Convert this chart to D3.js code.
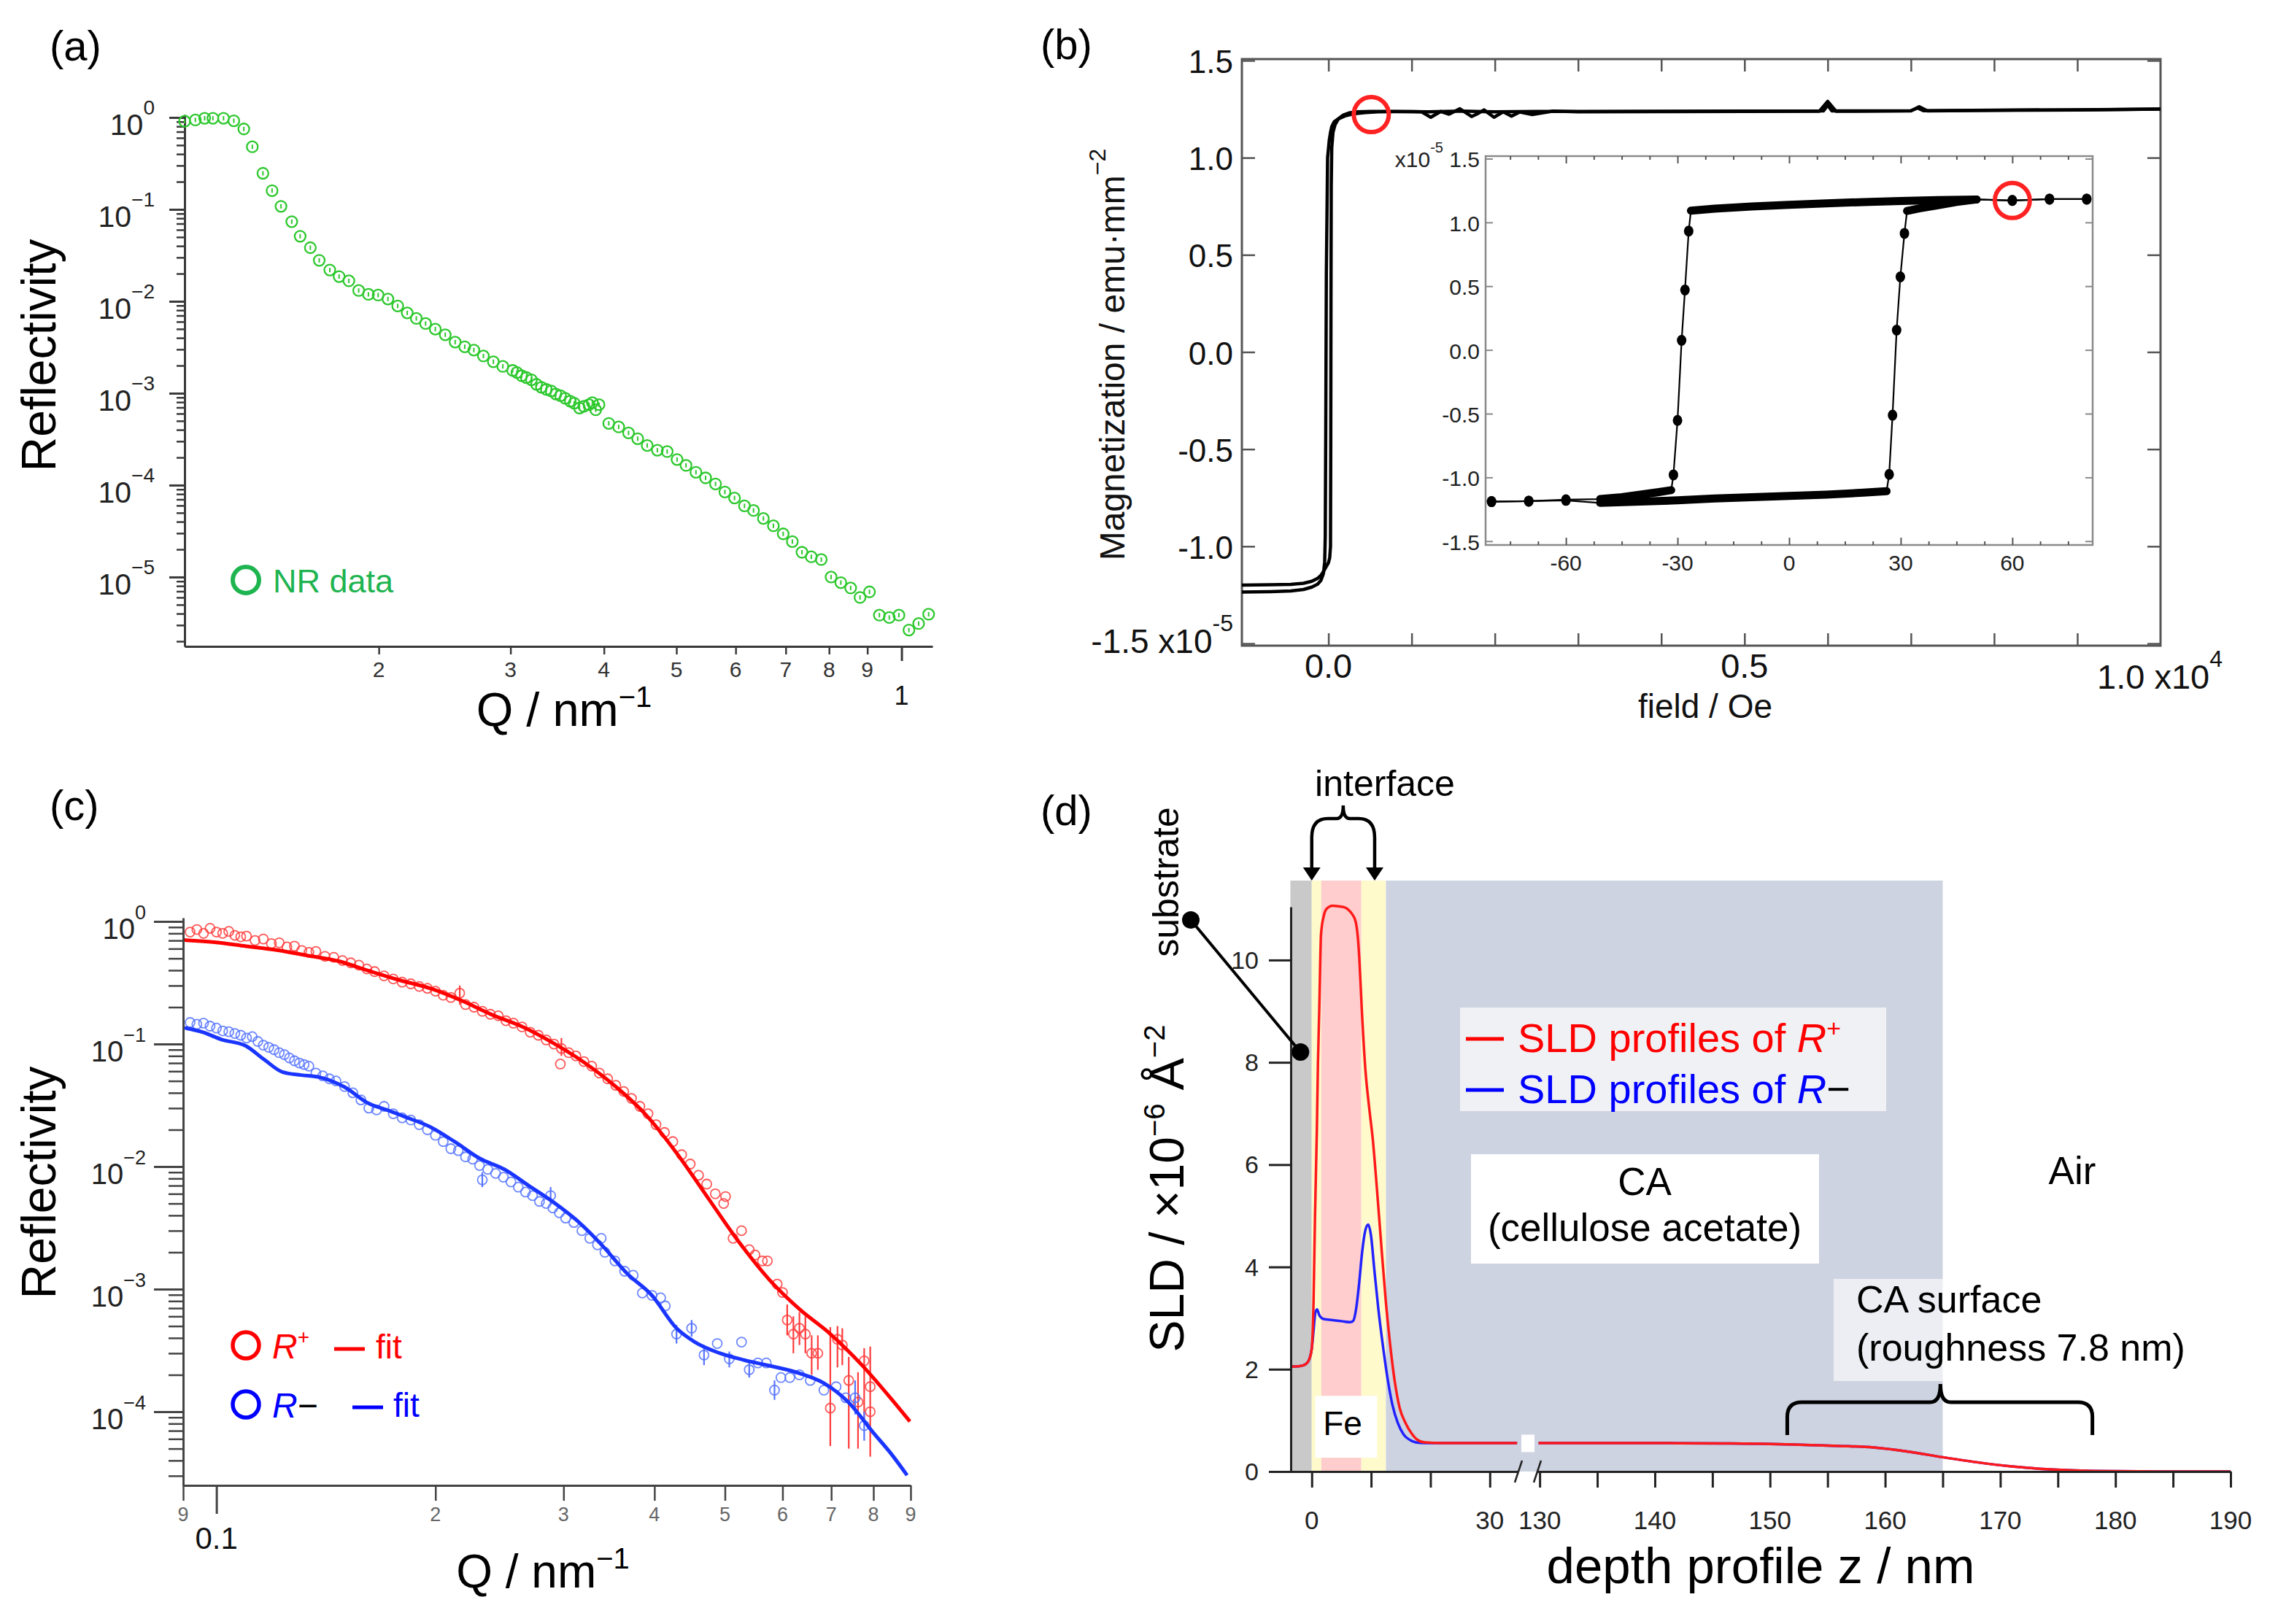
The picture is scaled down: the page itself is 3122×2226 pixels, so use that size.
<!DOCTYPE html>
<html>
<head>
<meta charset="utf-8">
<script src="https://cdn.jsdelivr.net/npm/d3@7/dist/d3.min.js"></script>
<style>
  html, body { margin:0; padding:0; background:#ffffff; }
  svg { display:block; }
</style>
</head>
<body>
<svg id="fig" width="3122" height="2226" xmlns="http://www.w3.org/2000/svg"></svg>
<script>
// ======================= DATA =======================
// ---- (a) NR data ----
const nrQ = [0.110,0.1137,0.117,0.120,0.124,0.128,0.132,0.1355,0.140,0.144,0.148,0.153,0.157,0.162,0.1665,0.172,0.177,0.1824,0.188,0.1937,0.1996,0.2057,0.212,0.2183,0.2245,0.231,0.238,0.2454,0.253,0.2606,0.268,0.276,0.2846,0.293,0.302,0.3105,0.320,0.330,0.340,0.350,0.3606,0.371,0.382,0.394,0.406,0.4186,0.4315,0.4438,0.457,0.4715,0.486,0.501,0.515,0.531,0.547,0.564,0.5805,0.598,0.6166,0.634,0.6535,0.674,0.6946,0.7145,0.736,0.7574,0.781,0.805,0.8295,0.855,0.880,0.906,0.934,0.963,0.992,1.023,1.054,1.087,
  0.306,0.315,0.325,0.335,0.345,0.355,0.365,0.376,0.386,0.390];
const nrR = [0.91,0.94,0.98,0.98,0.98,0.92,0.75,0.48,0.247,0.160,0.108,0.0735,0.051,0.0383,0.0279,0.0219,0.0186,0.0167,0.0131,0.0119,0.0117,0.0106,0.0089,0.00748,0.00651,0.00573,0.00498,0.00433,0.0036,0.0032,0.00295,0.00254,0.0022,0.00196,0.00177,0.00155,0.0014,0.00116,0.00106,0.00094,0.00082,0.00069,0.00075,0.00075,0.00047,0.00043,0.00037,0.00032,0.00027,0.00024,0.000232,0.00019,0.000164,0.000138,0.00012,0.000103,0.0000843,0.0000724,0.0000594,0.000053,0.0000434,0.0000361,0.0000295,0.0000243,0.0000186,0.0000166,0.0000155,0.00001,0.0000087,0.0000076,0.000006,0.0000069,0.00000385,0.00000363,0.00000385,0.00000265,0.00000312,0.00000394,
  0.00168,0.00148,0.00125,0.0011,0.00098,0.00088,0.00078,0.00072,0.00079,0.00066];
const aXTickLabels = ["2","3","4","5","6","7","8","9","1"];
const aYSup = ["0","\u22121","\u22122","\u22123","\u22124","\u22125"];

// ---- (b) magnetization loop (main) ----
const bigDownH = [10000,9000,8000,7200,7100,7000,6100,6000,5900,5000,4000,3000,2700,2450,2300,2200,2100,1990,1870,1800,1720,1580,1450,1350,1230,1120,1000,800,600,450,300,200,120,70,40,25,10,-10,-25,-32,-38,-45,-60,-90,-130,-200,-300,-450,-700,-1040];
const bigDownM = [1.25,1.246,1.244,1.241,1.262,1.241,1.239,1.29,1.239,1.238,1.237,1.236,1.24,1.222,1.235,1.214,1.236,1.208,1.246,1.228,1.212,1.252,1.224,1.238,1.208,1.236,1.237,1.237,1.236,1.232,1.226,1.215,1.2,1.185,1.16,1.13,1.09,1.0,0.4,-0.4,-0.95,-1.08,-1.14,-1.175,-1.195,-1.21,-1.222,-1.23,-1.233,-1.235];
const bigUpH = [-1040,-700,-450,-300,-200,-130,-90,-60,-40,-20,0,15,25,28,31,34,40,55,80,120,180,260,350,500,800,1200,1600,2000,2500,3000,4000,5000,5950,6000,6050,7000,7080,7150,8000,9000,10000];
const bigUpM = [-1.2,-1.198,-1.196,-1.19,-1.18,-1.165,-1.15,-1.13,-1.115,-1.1,-1.085,-1.06,-1.0,-0.5,0.3,0.85,1.05,1.13,1.17,1.2,1.22,1.232,1.236,1.238,1.238,1.236,1.24,1.236,1.238,1.238,1.239,1.24,1.241,1.27,1.241,1.242,1.256,1.242,1.245,1.247,1.25];
const bXTicks = [0,1000,2000,3000,4000,5000,6000,7000,8000,9000];
const bXLabelVals = [0,5000,10000];
const bXLabels = ["0.0","0.5","1.0 x10"];
const bYTicks = [-1.5,-1,-0.5,0,0.5,1,1.5];
const bYLabels = ["-1.5 x10","-1.0","-0.5","0.0","0.5","1.0","1.5"];
const bMarkH = 515, bMarkM = 1.222;

// ---- (b) inset loop ----
const loopDownH = [80,70,60,50.4,40,30,20,10,0,-10,-20,-26.4,-27,-28,-28.9,-30,-31.1,-31.7,-35,-40,-45,-50.8,-60,-70,-80];
const loopDownM = [1.183,1.183,1.172,1.18,1.175,1.168,1.16,1.15,1.138,1.125,1.108,1.092,0.932,0.47,0.075,-0.553,-0.98,-1.10,-1.115,-1.135,-1.155,-1.17,-1.175,-1.186,-1.19];
const loopUpH = [-80,-70,-60,-50.8,-40,-30,-20,-10,0,10,20,26.2,26.9,27.8,28.9,29.9,31,31.7,35,40,45,50.4,60,70,80];
const loopUpM = [-1.19,-1.186,-1.18,-1.2,-1.19,-1.18,-1.165,-1.155,-1.145,-1.135,-1.12,-1.108,-0.976,-0.512,0.155,0.573,0.914,1.09,1.11,1.135,1.16,1.18,1.172,1.183,1.183];
const iXMajor = [-60,-30,0,30,60];
const iXLabels = ["-60","-30","0","30","60"];
const iXMinor = [-75,-67.5,-52.5,-45,-37.5,-22.5,-15,-7.5,7.5,15,22.5,37.5,45,52.5,67.5,75];
const iYTicks = [-1.5,-1,-0.5,0,0.5,1,1.5];
const iYLabels = ["-1.5","-1.0","-0.5","0.0","0.5","1.0","1.5"];
const iMarkH = 60, iMarkM = 1.172;

// ---- (c) R+ / R- ----
const rpQ = [0.092,0.094,0.096,0.098,0.100,0.102,0.104,0.106,0.108,0.110,0.113,0.116,0.119,0.122,0.125,0.128,0.131,0.134,0.137,0.141,0.145,0.149,0.153,0.157,0.161,0.165,0.170,0.175,0.180,0.185,0.190,0.195,0.200,0.205,0.210,0.216,0.220,0.226,0.232,0.238,0.244,0.250,0.256,0.263,0.270,0.277,0.284,0.291,0.298,0.297,0.305,0.312,0.320,0.328,0.336,0.345,0.354,0.363,0.372,0.382,0.392,0.402,0.413,0.424,0.436,0.448,0.460,0.472,0.485,0.498,0.501,0.513,0.527,0.540,0.550,0.563,0.572,0.590,0.600,0.609,0.621,0.633,0.645,0.658,0.671,0.698,0.714,0.725,0.740,0.762,0.777,0.792,0.792];
const rpR = [0.82,0.86,0.80,0.88,0.82,0.80,0.83,0.77,0.75,0.76,0.70,0.72,0.66,0.67,0.62,0.63,0.58,0.56,0.57,0.52,0.51,0.48,0.46,0.44,0.41,0.39,0.36,0.34,0.32,0.31,0.295,0.285,0.27,0.25,0.24,0.26,0.21,0.20,0.185,0.175,0.17,0.155,0.148,0.138,0.125,0.118,0.108,0.100,0.092,0.0687,0.085,0.080,0.072,0.066,0.058,0.052,0.046,0.041,0.036,0.031,0.027,0.022,0.019,0.016,0.0125,0.0105,0.0085,0.0072,0.0060,0.0050,0.0057,0.0026,0.0030,0.0021,0.0019,0.0017,0.0017,0.0011,0.00094,0.00056,0.00043,0.00048,0.00043,0.0003,0.0003,0.000107,0.00039,0.00035,0.00018,0.00012,0.00026,0.00016,0.0001];
const rpErrQ = [0.216,0.298,0.609,0.621,0.633,0.645,0.658,0.671,0.698,0.714,0.725,0.740,0.762,0.777,0.792];
const rpErrLo = [0.21,0.080,0.00042,0.0003,0.00035,0.0003,0.0002,0.00022,0.0000525,0.00023,0.00024,0.00005,0.00005,0.000083,0.000043];
const rpErrHi = [0.30,0.112,0.00075,0.0006,0.00065,0.0006,0.00042,0.00042,0.00049,0.0005,0.00048,0.00028,0.00021,0.00033,0.00034];
const rpFitQ = [0.0904,0.1,0.1098,0.121,0.1334,0.147,0.162,0.1786,0.197,0.217,0.2392,0.2636,0.2906,0.3202,0.353,0.389,0.4289,0.4727,0.521,0.5743,0.633,0.6977,0.769,0.8477,0.898];
const rpFitR = [0.705,0.676,0.629,0.585,0.528,0.476,0.396,0.332,0.284,0.227,0.1735,0.138,0.1016,0.0708,0.0455,0.0266,0.01294,0.00568,0.00249,0.00121,0.000687,0.000432,0.000245,0.000126,0.0000832];

const rmQ = [0.092,0.094,0.096,0.098,0.100,0.102,0.104,0.106,0.108,0.110,0.112,0.114,0.116,0.118,0.120,0.122,0.124,0.126,0.128,0.130,0.132,0.134,0.137,0.140,0.143,0.146,0.150,0.154,0.158,0.162,0.166,0.170,0.175,0.180,0.185,0.190,0.195,0.200,0.205,0.210,0.215,0.220,0.225,0.230,0.232,0.236,0.242,0.248,0.254,0.260,0.266,0.272,0.278,0.284,0.288,0.290,0.296,0.302,0.310,0.318,0.326,0.334,0.338,0.342,0.353,0.364,0.374,0.385,0.397,0.408,0.414,0.429,0.450,0.468,0.488,0.507,0.527,0.540,0.555,0.570,0.585,0.597,0.614,0.633,0.655,0.684,0.711,0.733,0.755,0.777];
const rmR = [0.150,0.145,0.148,0.140,0.135,0.128,0.126,0.122,0.118,0.112,0.115,0.105,0.098,0.094,0.090,0.085,0.082,0.077,0.073,0.070,0.068,0.066,0.058,0.055,0.052,0.050,0.045,0.040,0.035,0.030,0.029,0.031,0.027,0.025,0.024,0.022,0.020,0.018,0.016,0.014,0.0135,0.012,0.0115,0.0102,0.0078,0.0095,0.0088,0.0082,0.0075,0.0068,0.0062,0.0058,0.0052,0.0050,0.0058,0.0046,0.0042,0.0038,0.0035,0.0030,0.0026,0.0023,0.0026,0.0020,0.0017,0.0014,0.0013,0.00093,0.00089,0.00085,0.00073,0.00043,0.00048,0.00029,0.00036,0.00027,0.00037,0.00022,0.00025,0.00025,0.00015,0.00019,0.00019,0.0002,0.00018,0.00015,0.00016,0.00013,0.00013,0.000077];
const rmErrQ = [0.232,0.288,0.429,0.450,0.468,0.507,0.540,0.585,0.755,0.777];
const rmErrLo = [0.0068,0.0049,0.00036,0.00041,0.00024,0.00023,0.00019,0.000125,0.000095,0.000058];
const rmErrHi = [0.0090,0.0068,0.00051,0.00056,0.00035,0.00031,0.00026,0.00018,0.00018,0.0001];
const rmFitQ = [0.0904,0.0958,0.1016,0.1098,0.1164,0.1234,0.1308,0.1387,0.15,0.162,0.1718,0.1822,0.197,0.2128,0.23,0.2487,0.2689,0.2906,0.314,0.3396,0.367,0.3968,0.4289,0.4547,0.4914,0.5313,0.5743,0.633,0.684,0.7396,0.7995,0.8477,0.89];
const rmFitR = [0.1355,0.1248,0.109,0.0964,0.0745,0.0589,0.0558,0.0536,0.0446,0.0327,0.0289,0.0253,0.021,0.0159,0.01167,0.0095,0.00697,0.00512,0.00357,0.00225,0.00134,0.00089,0.00048,0.00037,0.000301,0.000264,0.000238,0.000206,0.000171,0.000119,0.0000676,0.0000448,0.0000303];
const cXTickLabels = ["9","0.1","2","3","4","5","6","7","8","9"];
const cYSup = ["0","\u22121","\u22122","\u22123","\u22124"];

// ---- (d) SLD profiles ----
const sldZRed = [-3.6,-2,-1,-0.4,0,0.3,0.55,0.86,1.05,1.27,1.56,2.0,2.5,3.5,4.5,5.5,6.3,6.8,7.4,7.82,8.03,8.43,9.05,9.66,10.28,11.0,11.8,12.5,13.1,14.0,14.8,15.8,16.8,17.8,19,22,30,34.6,129.9,140,146,150,153,156,159,162,165,168,171,174,177,180,184,190];
const sldRed = [2.05,2.06,2.1,2.2,2.4,3.3,5.0,6.66,8.0,9.04,10.5,10.85,11.0,11.06,11.05,11.03,10.97,10.9,10.75,10.37,10.0,9.04,7.84,7.13,6.5,5.5,4.3,3.3,2.6,1.75,1.25,0.95,0.75,0.62,0.57,0.555,0.555,0.555,0.555,0.555,0.55,0.54,0.52,0.5,0.47,0.39,0.28,0.18,0.1,0.045,0.018,0.006,0,0];
const sldZBlue = [-3.6,-2,-1,-0.4,0,0.3,0.6,0.9,1.3,2.0,3.5,5.0,6.5,7.0,7.5,8.0,8.5,9.0,9.5,10.0,10.5,11.2,12,12.8,13.6,14.5,15.5,16.5,17.5,19,22,30,34.6,129.9,140,146,150,153,156,159,162,165,168,171,174,177,180,184,190];
const sldBlue = [2.05,2.06,2.1,2.2,2.4,2.75,3.1,3.17,3.05,2.98,2.96,2.94,2.92,2.95,3.2,3.7,4.3,4.7,4.83,4.6,4.0,3.2,2.45,1.8,1.3,0.95,0.72,0.62,0.57,0.555,0.555,0.555,0.555,0.555,0.555,0.55,0.54,0.52,0.5,0.47,0.39,0.28,0.18,0.1,0.045,0.018,0.006,0,0];
const layerNames = ["substrate","interface 1","Fe","interface 2","CA"];
const layerZ0 = [-3.6, 0, 1.6, 8.35, 12.5];
const layerZ1 = [0, 1.6, 8.35, 12.5, 165];
const dYTicks = [0,2,4,6,8,10];
const dYLabels = ["0","2","4","6","8","10"];
const dX1Ticks = [0,10,20,30];
const dX1Labels = ["0","","","30"];
const dX2Ticks = [130,135,140,145,150,155,160,165,170,175,180,185,190];
const dX2Labels = ["130","","140","","150","","160","","170","","180","","190"];
const interfaceZ = [0, 10.6];
const roughZ = [151.5, 164.8, 178];

// ======================= DRAWING =======================
const FONT = '"Liberation Sans", Arial, Helvetica, sans-serif';
const svg = d3.select("#fig");
svg.append("rect").attr("width",3122).attr("height",2226).attr("fill","#ffffff");

function rich(g, x, y, parts, o) {
  const t = g.append("text").attr("x", x).attr("y", y)
    .attr("font-family", FONT).attr("font-size", o.size)
    .attr("fill", o.fill || "#000").attr("text-anchor", o.anchor || "start");
  if (o.rotate) t.attr("transform", `rotate(${o.rotate} ${x} ${y})`);
  for (const p of parts) {
    const s = t.append("tspan").text(p.t);
    if (p.size) s.attr("font-size", p.size);
    if (p.dy != null) s.attr("dy", p.dy);
    if (p.italic) s.attr("font-style", "italic");
    if (p.fill) s.attr("fill", p.fill);
  }
  return t;
}
function ax(g, gen, tx, ty) {
  return g.append("g").attr("transform", `translate(${tx},${ty})`).call(gen);
}
function styleAx(s, col, w, keepDomain) {
  s.selectAll(".tick text").remove();
  if (keepDomain) s.select(".domain").attr("stroke", col).attr("stroke-width", w).attr("fill","none");
  else s.select(".domain").remove();
  s.selectAll(".tick line").attr("stroke", col).attr("stroke-width", w);
}
const isDecade = v => Math.abs(Math.log10(v) - Math.round(Math.log10(v))) < 1e-9;

// ---------------- Panel (a) ----------------
{
  const g = svg.append("g");
  const xA = d3.scaleLog().domain([0.110, 1.10]).range([253, 1278]);
  const yA = d3.scaleLog().domain([1.76e-6, 1.076]).range([886, 157]);
  const AX = "#3a3a3a";
  const yt = yA.ticks();
  ax(g, d3.axisLeft(yA).tickValues(yt.filter(isDecade)).tickSize(21).tickSizeOuter(0), 253, 0).call(s=>styleAx(s,AX,3,true));
  ax(g, d3.axisLeft(yA).tickValues(yt.filter(v=>!isDecade(v))).tickSize(11).tickSizeOuter(0), 253, 0).call(s=>styleAx(s,AX,2.5,false));
  const xt = xA.ticks();
  ax(g, d3.axisBottom(xA).tickValues(xt.filter(isDecade)).tickSize(20).tickSizeOuter(0), 0, 886).call(s=>styleAx(s,AX,3,true));
  ax(g, d3.axisBottom(xA).tickValues(xt.filter(v=>!isDecade(v))).tickSize(11).tickSizeOuter(0), 0, 886).call(s=>styleAx(s,AX,2.5,false));
  xt.forEach((v,i) => {
    const maj = isDecade(v);
    rich(g, xA(v), maj ? 966 : 928, [{t: aXTickLabels[i]}], {size: maj ? 36 : 30, anchor:"middle", fill: maj ? "#111" : "#333"});
  });
  yt.filter(isDecade).sort((a,b)=>b-a).forEach((v,i) => {
    rich(g, 212, yA(v) + 24, [{t:"10"},{t:aYSup[i], size:28, dy:-28}], {size:41, anchor:"end", fill:"#222"});
  });
  const pts = d3.zip(nrQ, nrR);
  const GC = "#2dc82d";
  g.selectAll("line.eb").data(pts).join("line")
    .attr("x1", d=>xA(d[0])).attr("x2", d=>xA(d[0]))
    .attr("y1", d=>yA(d[1])-3).attr("y2", d=>yA(d[1])+3)
    .attr("stroke", GC).attr("stroke-width", 2);
  g.selectAll("circle.nr").data(pts).join("circle")
    .attr("cx", d=>xA(d[0])).attr("cy", d=>yA(d[1])).attr("r", 7.5)
    .attr("fill","none").attr("stroke", GC).attr("stroke-width", 2.3);
  rich(g, 68, 83, [{t:"(a)"}], {size:58});
  rich(g, 76, 487, [{t:"Reflectivity"}], {size:66, anchor:"middle", rotate:-90});
  rich(g, 773, 995, [{t:"Q / nm"},{t:"\u22121", size:40, dy:-26}], {size:65, anchor:"middle"});
  g.append("circle").attr("cx",337).attr("cy",795).attr("r",18).attr("fill","none").attr("stroke","#1eb450").attr("stroke-width",6);
  rich(g, 374, 812, [{t:"NR data"}], {size:45, fill:"#1eb450"});
}

// ---------------- Panel (b) ----------------
{
  const g = svg.append("g");
  const xB = d3.scaleLinear().domain([-1040, 10000]).range([1702, 2961]);
  const yB = d3.scaleLinear().domain([-1.5, 1.5]).range([882, 83]);
  const FC = "#555";
  g.append("rect").attr("x",1702).attr("y",81).attr("width",2961-1702).attr("height",885-81)
    .attr("fill","none").attr("stroke",FC).attr("stroke-width",3);
  ax(g, d3.axisBottom(xB).tickValues(bXTicks).tickSize(-17).tickSizeOuter(0), 0, 885).call(s=>styleAx(s,FC,2.5,false));
  ax(g, d3.axisTop(xB).tickValues(bXTicks).tickSize(-17).tickSizeOuter(0), 0, 81).call(s=>styleAx(s,FC,2.5,false));
  ax(g, d3.axisLeft(yB).tickValues(bYTicks).tickSize(-18).tickSizeOuter(0), 1702, 0).call(s=>styleAx(s,FC,2.5,false));
  ax(g, d3.axisRight(yB).tickValues(bYTicks).tickSize(-18).tickSizeOuter(0), 2961, 0).call(s=>styleAx(s,FC,2.5,false));
  bYTicks.forEach((v,i) => {
    if (i === 0) rich(g, 1690, 895, [{t:bYLabels[i]},{t:"-5", size:32, dy:-30}], {size:46, anchor:"end", fill:"#111"});
    else rich(g, 1690, yB(v) + 17, [{t:bYLabels[i]}], {size:44, anchor:"end", fill:"#111"});
  });
  bXLabelVals.forEach((v,i) => {
    if (i === 2) rich(g, 2874, 944, [{t:bXLabels[i]},{t:"4", size:32, dy:-30}], {size:47, fill:"#111"});
    else rich(g, xB(v), 929, [{t:bXLabels[i]}], {size:47, anchor:"middle", fill:"#111"});
  });
  rich(g, 2337, 984, [{t:"field / Oe"}], {size:46, anchor:"middle", fill:"#111"});
  rich(g, 1541, 486, [{t:"Magnetization  / emu\u00B7mm"},{t:"\u22122", size:32, dy:-26}], {size:48, anchor:"middle", rotate:-90, fill:"#111"});
  rich(g, 1426, 81, [{t:"(b)"}], {size:58});
  const line = d3.line().x(d=>xB(d[0])).y(d=>yB(d[1])).curve(d3.curveLinear);
  g.append("path").attr("d", line(d3.zip(bigUpH, bigUpM))).attr("fill","none").attr("stroke","#000").attr("stroke-width",4.5).attr("stroke-linejoin","round");
  g.append("path").attr("d", line(d3.zip(bigDownH, bigDownM))).attr("fill","none").attr("stroke","#000").attr("stroke-width",4.5).attr("stroke-linejoin","round");
  g.append("circle").attr("cx", xB(bMarkH)).attr("cy", yB(bMarkM)).attr("r",24).attr("fill","none").attr("stroke","#f22").attr("stroke-width",6);

  // inset
  const xI = d3.scaleLinear().domain([-81.6, 81.6]).range([2036, 2868]);
  const yI = d3.scaleLinear().domain([-1.53, 1.52]).range([747, 214]);
  const IC = "#8a8a8a";
  g.append("rect").attr("x",2036).attr("y",214).attr("width",2868-2036).attr("height",747-214)
    .attr("fill","#fff").attr("stroke",IC).attr("stroke-width",2.5);
  ax(g, d3.axisBottom(xI).tickValues(iXMajor).tickSize(-10).tickSizeOuter(0), 0, 747).call(s=>styleAx(s,"#555",2,false));
  ax(g, d3.axisBottom(xI).tickValues(iXMinor).tickSize(-5).tickSizeOuter(0), 0, 747).call(s=>styleAx(s,"#555",2,false));
  ax(g, d3.axisTop(xI).tickValues(iXMajor).tickSize(-10).tickSizeOuter(0), 0, 214).call(s=>styleAx(s,"#555",2,false));
  ax(g, d3.axisTop(xI).tickValues(iXMinor).tickSize(-5).tickSizeOuter(0), 0, 214).call(s=>styleAx(s,"#555",2,false));
  ax(g, d3.axisLeft(yI).tickValues(iYTicks).tickSize(-10).tickSizeOuter(0), 2036, 0).call(s=>styleAx(s,IC,2,false));
  ax(g, d3.axisRight(yI).tickValues(iYTicks).tickSize(-10).tickSizeOuter(0), 2868, 0).call(s=>styleAx(s,IC,2,false));
  iXMajor.forEach((v,i) => rich(g, xI(v), 782, [{t:iXLabels[i]}], {size:30, anchor:"middle", fill:"#222"}));
  iYTicks.forEach((v,i) => {
    if (i === iYTicks.length-1) rich(g, 2028, yI(v)+12, [{t:"x10"},{t:"-5", size:20, dy:-20},{t:" "+iYLabels[i], dy:20}], {size:30, anchor:"end", fill:"#222"});
    else rich(g, 2028, yI(v)+12, [{t:iYLabels[i]}], {size:30, anchor:"end", fill:"#222"});
  });
  const dense = p => Math.abs(p[0]) <= 51 && Math.abs(p[1]) >= 1.05;
  const lineI = d3.line().x(d=>xI(d[0])).y(d=>yI(d[1]));
  const lDown = d3.zip(loopDownH, loopDownM), lUp = d3.zip(loopUpH, loopUpM);
  [lDown, lUp].forEach(arr => {
    g.append("path").attr("d", lineI(arr)).attr("fill","none").attr("stroke","#000").attr("stroke-width",2.2);
    g.append("path").attr("d", d3.line().defined(dense).x(d=>xI(d[0])).y(d=>yI(d[1]))(arr))
      .attr("fill","none").attr("stroke","#000").attr("stroke-width",11).attr("stroke-linecap","round");
    g.selectAll(null).data(arr.filter(p=>!dense(p))).join("ellipse")
      .attr("cx", d=>xI(d[0])).attr("cy", d=>yI(d[1])).attr("rx",6.5).attr("ry",7.5).attr("fill","#000");
  });
  g.append("circle").attr("cx", xI(iMarkH)).attr("cy", yI(iMarkM)).attr("r",24).attr("fill","none").attr("stroke","#f22").attr("stroke-width",6);
}

// ---------------- Panel (c) ----------------
{
  const g = svg.append("g");
  const xC = d3.scaleLog().domain([0.09, 0.9]).range([251, 1248]);
  const yC = d3.scaleLog().domain([2.506e-5, 1.072]).range([2036, 1258]);
  const AX = "#444";
  const yt = yC.ticks();
  ax(g, d3.axisLeft(yC).tickValues(yt.filter(isDecade)).tickSize(40).tickSizeOuter(0), 251, 0).call(s=>styleAx(s,AX,3,true));
  ax(g, d3.axisLeft(yC).tickValues(yt.filter(v=>!isDecade(v))).tickSize(20).tickSizeOuter(0), 251, 0).call(s=>styleAx(s,AX,2.5,false));
  const xt = xC.ticks();
  ax(g, d3.axisBottom(xC).tickValues(xt.filter(isDecade)).tickSize(39).tickSizeOuter(0), 0, 2036).call(s=>styleAx(s,AX,3,true));
  ax(g, d3.axisBottom(xC).tickValues(xt.filter(v=>!isDecade(v))).tickSize(21).tickSizeOuter(0), 0, 2036).call(s=>styleAx(s,AX,2.5,false));
  xt.forEach((v,i) => {
    const maj = isDecade(v);
    rich(g, xC(v), maj ? 2123 : 2085, [{t: cXTickLabels[i]}], {size: maj ? 42 : 27, anchor:"middle", fill: maj ? "#111" : "#666"});
  });
  yt.filter(isDecade).sort((a,b)=>b-a).forEach((v,i) => {
    rich(g, 200, yC(v) + 24, [{t:"10"},{t:cYSup[i], size:27, dy:-27}], {size:40, anchor:"end", fill:"#222"});
  });
  const lineC = d3.line().x(d=>xC(d[0])).y(d=>yC(d[1])).curve(d3.curveMonotoneX);
  const series = [
    {q:rpQ, r:rpR, eq:rpErrQ, lo:rpErrLo, hi:rpErrHi, fq:rpFitQ, fr:rpFitR, dc:"#ff3b3b", fc:"#ff0000"},
    {q:rmQ, r:rmR, eq:rmErrQ, lo:rmErrLo, hi:rmErrHi, fq:rmFitQ, fr:rmFitR, dc:"#5573ff", fc:"#1a35ff"}
  ];
  series.forEach(s => {
    g.selectAll(null).data(d3.zip(s.eq, s.lo, s.hi)).join("line")
      .attr("x1", d=>xC(d[0])).attr("x2", d=>xC(d[0])).attr("y1", d=>yC(d[1])).attr("y2", d=>yC(d[2]))
      .attr("stroke", s.dc).attr("stroke-width", 2.2);
    g.selectAll(null).data(d3.zip(s.q, s.r)).join("circle")
      .attr("cx", d=>xC(d[0])).attr("cy", d=>yC(d[1])).attr("r", 6.5)
      .attr("fill","none").attr("stroke", s.dc).attr("stroke-width", 1.8).attr("opacity",0.85);
  });
  series.forEach(s => {
    g.append("path").attr("d", lineC(d3.zip(s.fq, s.fr))).attr("fill","none").attr("stroke", s.fc).attr("stroke-width",5);
  });
  rich(g, 68, 1124, [{t:"(c)"}], {size:58});
  rich(g, 76, 1621, [{t:"Reflectivity"}], {size:66, anchor:"middle", rotate:-90});
  rich(g, 744, 2176, [{t:"Q / nm"},{t:"\u22121", size:40, dy:-26}], {size:64, anchor:"middle"});
  g.append("circle").attr("cx",337).attr("cy",1844).attr("r",18).attr("fill","none").attr("stroke","#ff0000").attr("stroke-width",5.5);
  rich(g, 373, 1862, [{t:"R", italic:true},{t:"+", size:28, dy:-20}], {size:48, fill:"#ff0000"});
  g.append("line").attr("x1",458).attr("x2",500).attr("y1",1849).attr("y2",1849).attr("stroke","#ff0000").attr("stroke-width",5);
  rich(g, 515, 1862, [{t:"fit"}], {size:46, fill:"#ff0000"});
  g.append("circle").attr("cx",337).attr("cy",1925).attr("r",18).attr("fill","none").attr("stroke","#0000ff").attr("stroke-width",5.5);
  rich(g, 373, 1943, [{t:"R", italic:true},{t:"\u2212", fill:"#000"}], {size:48, fill:"#0000ff"});
  g.append("line").attr("x1",483).attr("x2",525).attr("y1",1929).attr("y2",1929).attr("stroke","#0000ff").attr("stroke-width",5);
  rich(g, 539, 1942, [{t:"fit"}], {size:46, fill:"#0000ff"});
}

// ---------------- Panel (d) ----------------
{
  const g = svg.append("g");
  const xD1 = d3.scaleLinear().domain([-7.1, 34.7]).range([1740, 2080]);
  const xD2 = d3.scaleLinear().domain([129.8, 190]).range([2107, 3057]);
  const xD = z => (z < 80 ? xD1(z) : xD2(z));
  const yD = d3.scaleLinear().domain([0, 11.04]).range([2017, 1243]);
  const bandTop = 1207;
  const layerColor = ["#c9c9c9","#fffacb","#ffcdcd","#fffacb","#cdd3e0"];
  layerNames.forEach((n,i) => {
    g.append("rect").attr("x", xD(layerZ0[i])).attr("y", bandTop)
      .attr("width", xD(layerZ1[i]) - xD(layerZ0[i])).attr("height", yD(0) - bandTop)
      .attr("fill", layerColor[i]);
  });
  g.append("rect").attr("x", xD1(0.6)).attr("y", yD(1.48)).attr("width", xD1(11.0)-xD1(0.6)).attr("height", yD(0.27)-yD(1.48)).attr("fill","#ffffff");
  rich(g, xD1(5.2), 1967, [{t:"Fe"}], {size:46, anchor:"middle"});
  g.append("rect").attr("x",2001).attr("y",1381).attr("width",584).attr("height",142).attr("fill","#ffffff").attr("opacity",0.68);
  g.append("rect").attr("x",2016).attr("y",1582).attr("width",477).attr("height",150).attr("fill","#ffffff");
  g.append("rect").attr("x",2513).attr("y",1753).attr("width",509).attr("height",140).attr("fill","#ffffff").attr("opacity",0.62);
  const lineD = d3.line().x(d=>xD(d[0])).y(d=>yD(d[1])).curve(d3.curveMonotoneX);
  const blue = d3.zip(sldZBlue, sldBlue), red = d3.zip(sldZRed, sldRed);
  [[blue,"#2222ff"],[red,"#ff1a1a"]].forEach(([arr,col]) => {
    g.append("path").attr("d", lineD(arr.filter(d=>d[0] < 80))).attr("fill","none").attr("stroke",col).attr("stroke-width",3.5);
    g.append("path").attr("d", lineD(arr.filter(d=>d[0] > 80))).attr("fill","none").attr("stroke",col).attr("stroke-width",3.5);
  });
  g.append("rect").attr("x", 2085).attr("y", yD(0.72)).attr("width", 18).attr("height", yD(0.38)-yD(0.72)).attr("fill","#fff");
  const AX = "#222";
  ax(g, d3.axisLeft(yD).tickValues(dYTicks).tickSize(30).tickSizeOuter(0), 1769, 0).call(s=>styleAx(s,AX,3,true));
  ax(g, d3.axisBottom(xD1).tickValues(dX1Ticks).tickSize(22).tickSizeOuter(0), 0, 2017).call(s=>styleAx(s,AX,3,true));
  ax(g, d3.axisBottom(xD2).tickValues(dX2Ticks).tickSize(22).tickSizeOuter(0), 0, 2017).call(s=>styleAx(s,AX,3,true));
  [2081, 2107].forEach(x => g.append("line").attr("x1",x-5).attr("y1",2032).attr("x2",x+5).attr("y2",2002).attr("stroke",AX).attr("stroke-width",2.5));
  dYTicks.forEach((v,i) => rich(g, 1725, yD(v)+12, [{t:dYLabels[i]}], {size:34, anchor:"end", fill:"#222"}));
  dX1Ticks.forEach((v,i) => { if (dX1Labels[i]) rich(g, xD1(v), 2096, [{t:dX1Labels[i]}], {size:35, anchor:"middle", fill:"#222"}); });
  dX2Ticks.forEach((v,i) => { if (dX2Labels[i]) rich(g, xD2(v), 2096, [{t:dX2Labels[i]}], {size:35, anchor:"middle", fill:"#222"}); });
  rich(g, 2413, 2170, [{t:"depth profile z / nm"}], {size:69, anchor:"middle"});
  rich(g, 1622, 1629, [{t:"SLD / \u00D710"},{t:"\u22126", size:40, dy:-26},{t:" \u00C5", dy:26},{t:"\u22122", size:40, dy:-26}], {size:66, anchor:"middle", rotate:-90});
  rich(g, 1426, 1131, [{t:"(d)"}], {size:58});
  g.append("line").attr("x1",2009).attr("x2",2061).attr("y1",1424).attr("y2",1424).attr("stroke","#ff0000").attr("stroke-width",5);
  rich(g, 2080, 1442, [{t:"SLD profiles of "},{t:"R", italic:true},{t:"+", size:34, dy:-21}], {size:56, fill:"#ff0000"});
  g.append("line").attr("x1",2009).attr("x2",2061).attr("y1",1494).attr("y2",1494).attr("stroke","#0000ff").attr("stroke-width",5);
  rich(g, 2080, 1512, [{t:"SLD profiles of "},{t:"R", italic:true},{t:"\u2212", fill:"#000"}], {size:56, fill:"#0000ff"});
  rich(g, 2254, 1638, [{t:"CA"}], {size:53, anchor:"middle"});
  rich(g, 2254, 1701, [{t:"(cellulose acetate)"}], {size:53, anchor:"middle"});
  rich(g, 2840, 1623, [{t:"Air"}], {size:53, anchor:"middle"});
  rich(g, 2544, 1799, [{t:"CA surface"}], {size:52});
  rich(g, 2544, 1865, [{t:"(roughness 7.8 nm)"}], {size:52});
  rich(g, 1898, 1091, [{t:"interface"}], {size:50, anchor:"middle"});
  rich(g, 1615, 1209, [{t:"substrate"}], {size:50, anchor:"middle", rotate:-90});
  const bx0 = xD1(interfaceZ[0]), bx1 = xD1(interfaceZ[1]), bxm = (bx0+bx1)/2;
  g.append("path").attr("d", `M${bx0},1192 V1148 Q${bx0},1122 ${bx0+22},1122 H${bxm-9} Q${bxm},1122 ${bxm},1104 Q${bxm},1122 ${bxm+9},1122 H${bx1-22} Q${bx1},1122 ${bx1},1148 V1192`)
    .attr("fill","none").attr("stroke","#000").attr("stroke-width",4.5);
  [bx0, bx1].forEach(x => g.append("path").attr("d", `M${x-12},1189 L${x+12},1189 L${x},${bandTop} Z`).attr("fill","#000"));
  g.append("line").attr("x1",1632).attr("y1",1261).attr("x2",xD1(-1.9)).attr("y2",yD(8.2)).attr("stroke","#000").attr("stroke-width",4);
  g.append("circle").attr("cx",1632).attr("cy",1261).attr("r",12).attr("fill","#000");
  g.append("circle").attr("cx",xD1(-1.9)).attr("cy",yD(8.2)).attr("r",12).attr("fill","#000");
  const r0 = xD2(roughZ[0]), rm = xD2(roughZ[1]), r1 = xD2(roughZ[2]);
  g.append("path").attr("d", `M${r0},1967 V1942 Q${r0},1922 ${r0+20},1922 H${rm-14} Q${rm},1922 ${rm},1897 Q${rm},1922 ${rm+14},1922 H${r1-20} Q${r1},1922 ${r1},1942 V1967`)
    .attr("fill","none").attr("stroke","#000").attr("stroke-width",5);
}
</script>
</body>
</html>
